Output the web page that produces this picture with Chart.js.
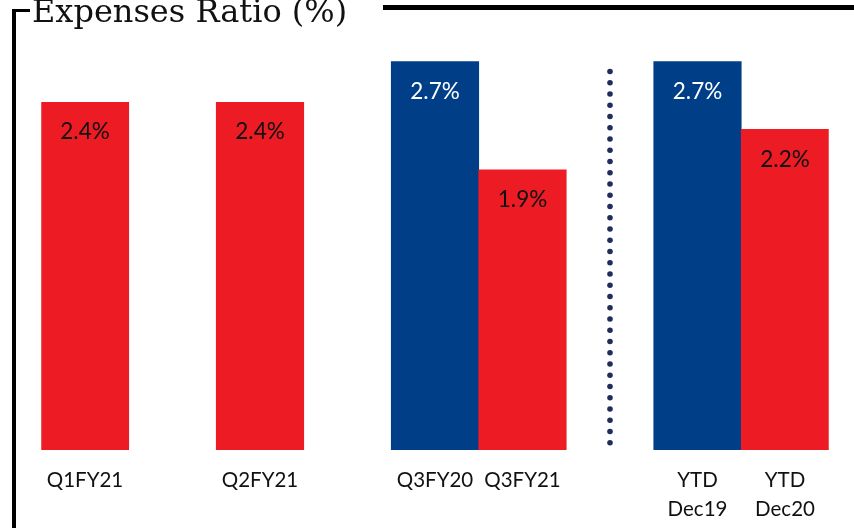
<!DOCTYPE html>
<html>
<head>
<meta charset="utf-8">
<script src="https://cdn.jsdelivr.net/npm/chart.js@4.4.1/dist/chart.umd.min.js"></script>
<style>
  html, body { margin: 0; padding: 0; background: #ffffff; }
  #wrap { width: 854px; height: 528px; position: relative; }
</style>
</head>
<body>
<div id="wrap"><canvas id="chart" width="854" height="528"></canvas></div>
<script>
// Expense ratio (%) by period; each inner list is one group of adjacent bars
const groups = [
  ['Q1FY21'],
  ['Q2FY21'],
  ['Q3FY20', 'Q3FY21'],
  ['YTD Dec19', 'YTD Dec20']
];
const values = [2.4, 2.4, 2.7, 1.9, 2.7, 2.2];
const fiscalYear = ['FY21', 'FY21', 'FY20', 'FY21', 'FY20', 'FY21'];
const valueLabels = ['2.4%', '2.4%', '2.7%', '1.9%', '2.7%', '2.2%'];
const titleText = 'Expenses Ratio (%)';

const COLORS = { FY20: '#003f87', FY21: '#ed1c24' };
const LABEL_COLORS = { FY20: '#ffffff', FY21: '#111111' };
const AXIS_MIN = -0.17;

// Build category slots with an empty spacer between groups
const slotLabels = [];
const slotValues = [];
const slotColors = [];
const slotText = [];
const slotTextColor = [];
let idx = 0;
let dividerSlot = null;
groups.forEach((g, gi) => {
  if (gi > 0) {
    if (gi === groups.length - 1) dividerSlot = slotLabels.length;
    slotLabels.push('');
    slotValues.push(null);
    slotColors.push('rgba(0,0,0,0)');
    slotText.push('');
    slotTextColor.push('#000');
  }
  g.forEach(name => {
    slotLabels.push(name.includes(' ') ? name.split(' ') : name);
    slotValues.push(values[idx]);
    slotColors.push(COLORS[fiscalYear[idx]]);
    slotText.push(valueLabels[idx]);
    slotTextColor.push(LABEL_COLORS[fiscalYear[idx]]);
    idx++;
  });
});

// Frame bracket and title
const framePlugin = {
  id: 'frame',
  beforeDraw(chart) {
    const ctx = chart.ctx;
    ctx.save();
    ctx.fillStyle = '#ffffff';
    ctx.fillRect(0, 0, chart.width, chart.height);
    ctx.fillStyle = '#000000';
    ctx.fillRect(12, 9, 4, chart.height - 9);
    ctx.fillRect(12, 9, 18, 3);
    ctx.fillRect(383, 5, chart.width - 383, 5);
    ctx.font = '32px "DejaVu Serif"';
    ctx.textBaseline = 'alphabetic';
    ctx.textAlign = 'left';
    ctx.fillStyle = '#111111';
    ctx.fillText(titleText, 32, 22);
    ctx.restore();
  }
};

// Dotted divider before the year-to-date group, and value labels inside bars
const annotatePlugin = {
  id: 'annotate',
  afterDatasetsDraw(chart) {
    const ctx = chart.ctx;
    const xs = chart.scales.x;
    ctx.save();
    if (dividerSlot !== null) {
      const x = xs.getPixelForValue(dividerSlot);
      ctx.fillStyle = '#1f2d5c';
      for (let y = 71.5; y <= 453; y += 11.25) {
        ctx.beginPath();
        ctx.arc(x, y, 2.8, 0, Math.PI * 2);
        ctx.fill();
      }
    }
    const meta = chart.getDatasetMeta(0);
    ctx.font = '22.5px Lato';
    ctx.textAlign = 'center';
    ctx.textBaseline = 'middle';
    meta.data.forEach((bar, i) => {
      if (slotValues[i] === null) return;
      ctx.fillStyle = slotTextColor[i];
      ctx.fillText(slotText[i], bar.x, bar.y + 30);
    });
    ctx.restore();
  }
};

new Chart(document.getElementById('chart'), {
  type: 'bar',
  data: {
    labels: slotLabels,
    datasets: [{
      data: slotValues,
      backgroundColor: slotColors,
      borderWidth: 0,
      base: AXIS_MIN,
      barPercentage: 1,
      categoryPercentage: 1
    }]
  },
  options: {
    responsive: false,
    devicePixelRatio: 1,
    animation: false,
    events: [],
    layout: { padding: { left: 41.25, right: 25.25, top: 40, bottom: 0 } },
    plugins: { legend: { display: false }, tooltip: { enabled: false } },
    scales: {
      x: {
        grid: { display: false },
        border: { display: false },
        ticks: {
          color: '#111111',
          font: { family: 'Lato', size: 20.5, lineHeight: 1.4 },
          padding: 8,
          maxRotation: 0,
          autoSkip: false
        },
        afterFit(scale) { scale.height = 78; }
      },
      y: {
        display: false,
        min: AXIS_MIN,
        max: 2.86
      }
    }
  },
  plugins: [framePlugin, annotatePlugin]
});
</script>
</body>
</html>
